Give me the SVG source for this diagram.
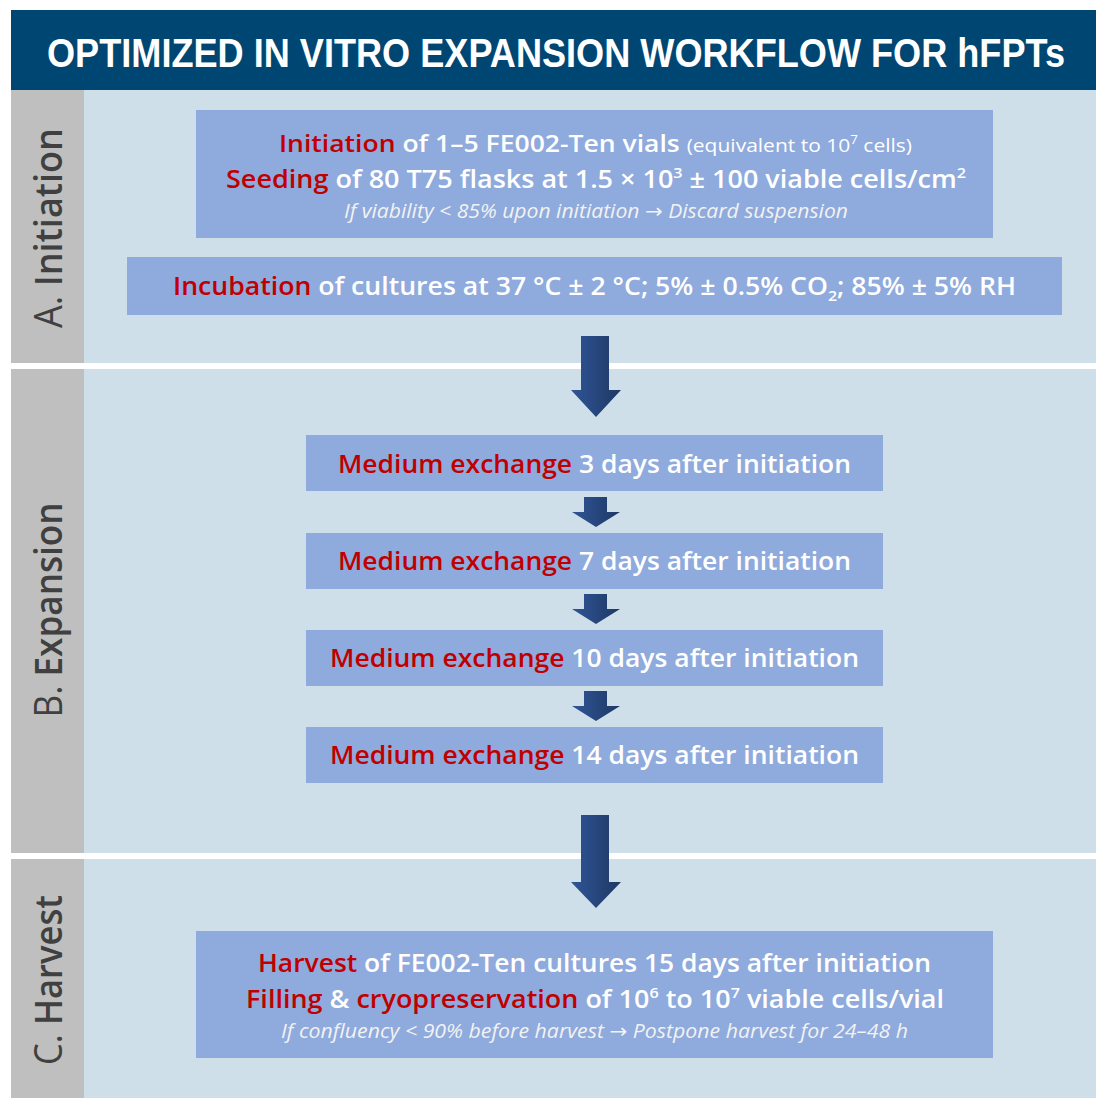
<svg xmlns="http://www.w3.org/2000/svg" width="1096" height="1098" viewBox="0 0 1096 1098">
<defs>
<linearGradient id="ag" x1="0" y1="0" x2="1" y2="0">
<stop offset="0" stop-color="#2F5597"/>
<stop offset="1" stop-color="#1F3864"/>
</linearGradient>
<style>
.band{fill:#CFDFE9}
.strip{fill:#BFBFBF}
.box{fill:#8FAADC}
.t{font-family:"Open Sans","Liberation Sans",sans-serif;font-weight:600;fill:#FFFFFF}
.r{fill:#C00000}
.sm{font-weight:400}
.it{font-family:"Open Sans","Liberation Sans",sans-serif;font-style:italic;font-weight:400;fill:#F2F2F2}
.ar{font-family:"DejaVu Sans",sans-serif;font-style:normal}
.lab{font-family:"Open Sans","Liberation Sans",sans-serif;fill:#404040;font-weight:600}
.arrow{fill:url(#ag)}
</style>
</defs>
<rect x="0" y="0" width="1096" height="1098" fill="#FFFFFF"/>
<g id="title">
<rect x="11" y="10" width="1085" height="80" fill="#004673"/>
<text transform="translate(556,67) scale(1,1.1)" x="0" y="0" text-anchor="middle" font-family="'Liberation Sans',sans-serif" font-weight="700" font-size="37" fill="#FFFFFF" textLength="1018" lengthAdjust="spacingAndGlyphs">OPTIMIZED IN VITRO EXPANSION WORKFLOW FOR hFPTs</text>
</g>
<g id="section-a">
<rect class="band" x="84" y="90" width="1012" height="273"/>
<rect class="strip" x="11" y="90" width="73" height="273"/>
<text class="lab" transform="translate(62,228) rotate(-90)" text-anchor="middle" font-size="38" textLength="200" lengthAdjust="spacingAndGlyphs"><tspan font-weight="400">A. </tspan>Initiation</text>
</g>
<g id="section-b">
<rect class="band" x="84" y="369" width="1012" height="484"/>
<rect class="strip" x="11" y="369" width="73" height="484"/>
<text class="lab" transform="translate(62,610) rotate(-90)" text-anchor="middle" font-size="38" textLength="215" lengthAdjust="spacingAndGlyphs"><tspan font-weight="400">B. </tspan>Expansion</text>
</g>
<g id="section-c">
<rect class="band" x="84" y="859" width="1012" height="239"/>
<rect class="strip" x="11" y="859" width="73" height="239"/>
<text class="lab" transform="translate(62,980) rotate(-90)" text-anchor="middle" font-size="38" textLength="170" lengthAdjust="spacingAndGlyphs"><tspan font-weight="400">C. </tspan>Harvest</text>
</g>
<g id="node-initiation">
<rect class="box" x="196" y="110" width="797" height="128"/>
<text class="t" x="595.5" y="152" text-anchor="middle" font-size="24" textLength="633" lengthAdjust="spacingAndGlyphs"><tspan class="r">Initiation</tspan> of 1–5 FE002-Ten vials <tspan class="sm" font-size="19">(equivalent to 10</tspan><tspan class="sm" font-size="12" dy="-8">7</tspan><tspan class="sm" font-size="19" dy="8"> cells)</tspan></text>
<text class="t" x="596" y="188" text-anchor="middle" font-size="25" textLength="740" lengthAdjust="spacingAndGlyphs"><tspan class="r">Seeding</tspan> of 80 T75 flasks at 1.5 × 10<tspan font-size="15" dy="-10">3</tspan><tspan dy="10"> ± 100 viable cells/cm</tspan><tspan font-size="15" dy="-10">2</tspan></text>
<text class="it" x="596" y="218" text-anchor="middle" font-size="20" textLength="504" lengthAdjust="spacingAndGlyphs">If viability &lt; 85% upon initiation <tspan class="ar">→</tspan> Discard suspension</text>
</g>
<g id="node-incubation">
<rect class="box" x="127" y="257" width="935" height="58"/>
<text class="t" x="594.5" y="295" text-anchor="middle" font-size="25" textLength="843" lengthAdjust="spacingAndGlyphs"><tspan class="r">Incubation</tspan> of cultures at 37 °C ± 2 °C; 5% ± 0.5% CO<tspan font-size="15" dy="6">2</tspan><tspan dy="-6">; 85% ± 5% RH</tspan></text>
</g>
<g id="node-med3">
<rect class="box" x="306" y="435" width="577" height="56"/>
<text class="t" x="594.5" y="473" text-anchor="middle" font-size="26" textLength="513" lengthAdjust="spacingAndGlyphs"><tspan class="r">Medium exchange</tspan> 3 days after initiation</text>
</g>
<g id="node-med7">
<rect class="box" x="306" y="533" width="577" height="56"/>
<text class="t" x="594.5" y="570" text-anchor="middle" font-size="26" textLength="513" lengthAdjust="spacingAndGlyphs"><tspan class="r">Medium exchange</tspan> 7 days after initiation</text>
</g>
<g id="node-med10">
<rect class="box" x="306" y="630" width="577" height="56"/>
<text class="t" x="594.5" y="667" text-anchor="middle" font-size="26" textLength="529" lengthAdjust="spacingAndGlyphs"><tspan class="r">Medium exchange</tspan> 10 days after initiation</text>
</g>
<g id="node-med14">
<rect class="box" x="306" y="727" width="577" height="56"/>
<text class="t" x="594.5" y="764" text-anchor="middle" font-size="26" textLength="529" lengthAdjust="spacingAndGlyphs"><tspan class="r">Medium exchange</tspan> 14 days after initiation</text>
</g>
<g id="node-harvest">
<rect class="box" x="196" y="931" width="797" height="127"/>
<text class="t" x="594.5" y="972" text-anchor="middle" font-size="25" textLength="673" lengthAdjust="spacingAndGlyphs"><tspan class="r">Harvest</tspan> of FE002-Ten cultures 15 days after initiation</text>
<text class="t" x="595" y="1008" text-anchor="middle" font-size="25" textLength="698" lengthAdjust="spacingAndGlyphs"><tspan class="r">Filling</tspan> &amp; <tspan class="r">cryopreservation</tspan> of 10<tspan font-size="15" dy="-10">6</tspan><tspan dy="10"> to 10</tspan><tspan font-size="15" dy="-10">7</tspan><tspan dy="10"> viable cells/vial</tspan></text>
<text class="it" x="594.5" y="1038" text-anchor="middle" font-size="20" textLength="627" lengthAdjust="spacingAndGlyphs">If confluency &lt; 90% before harvest <tspan class="ar">→</tspan> Postpone harvest for 24–48 h</text>
</g>
<g id="connectors">
<polygon class="arrow" points="581,336 609,336 609,390 621,390 596,417 571,390 581,390"/>
<polygon class="arrow" points="584,497 607,497 607,512 620,512 596,527 572,512 584,512"/>
<polygon class="arrow" points="584,594 607,594 607,609 620,609 596,624 572,609 584,609"/>
<polygon class="arrow" points="584,691 607,691 607,706 620,706 596,721 572,706 584,706"/>
<polygon class="arrow" points="581,815 609,815 609,882 621,882 596,908 571,882 581,882"/>
</g>
</svg>
